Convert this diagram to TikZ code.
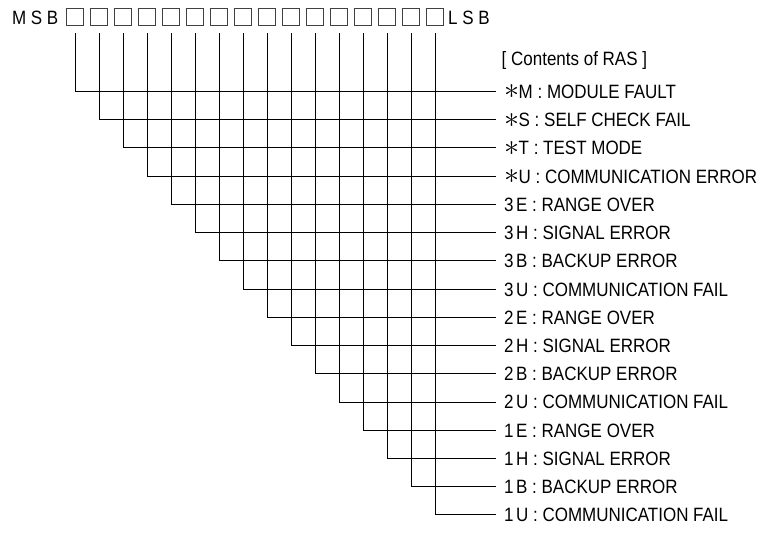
\documentclass[tikz,border=0pt]{standalone}
\usepackage{fontspec}
\setmainfont{Liberation Sans}[FakeStretch=0.88]
\newcommand\tsp{\hspace{0.13em}}
\newcommand\rasast{\raisebox{-0.6pt}{\fontsize{10}{10}\selectfont\scalebox{3.0}{$\ast$}}\hspace{-0.5pt}}
\begin{document}
\begin{tikzpicture}[x=1pt,y=-1pt,
  bitbox/.style={draw=black!75, line width=0.8pt, minimum width=16.7pt, minimum height=16.5pt, inner sep=0pt},
  txt/.style={font=\fontsize{19.3}{22}\selectfont, inner sep=0pt, text height=13.8pt, text depth=0pt},
  lbl/.style={txt, anchor=west, inner xsep=8pt},
  rasline/.style={line width=1pt, black}
]
\useasboundingbox (0,0) rectangle (761,534);
\foreach \i in {0,...,15} \node[bitbox] (b\i) at ({75+24*\i},16.75) {};
\node[txt, anchor=east] (msb) at (58.5,18) {M S B};
\node[txt, anchor=west] (lsb) at (448,18) {L S B};
\node[txt, anchor=west] (title) at (501.5,59) {[ Contents of RAS ]};
\foreach \i/\t in {
  0/{\rasast M : MODULE FAULT},
  1/{\rasast S : SELF CHECK FAIL},
  2/{\rasast T : TEST MODE},
  3/{\rasast U : COMMUNICATION ERROR},
  4/{3\tsp E : RANGE OVER},
  5/{3\tsp H : SIGNAL ERROR},
  6/{3\tsp B : BACKUP ERROR},
  7/{3\tsp U : COMMUNICATION FAIL},
  8/{2\tsp E : RANGE OVER},
  9/{2\tsp H : SIGNAL ERROR},
  10/{2\tsp B : BACKUP ERROR},
  11/{2\tsp U : COMMUNICATION FAIL},
  12/{1\tsp E : RANGE OVER},
  13/{1\tsp H : SIGNAL ERROR},
  14/{1\tsp B : BACKUP ERROR},
  15/{1\tsp U : COMMUNICATION FAIL}}
{
  \node[lbl] (l\i) at (496,{91.5+28.23*\i}) {\t};
  \draw[rasline] ([yshift=-8pt]b\i.south) |- (l\i.west);
}
\end{tikzpicture}
\end{document}
